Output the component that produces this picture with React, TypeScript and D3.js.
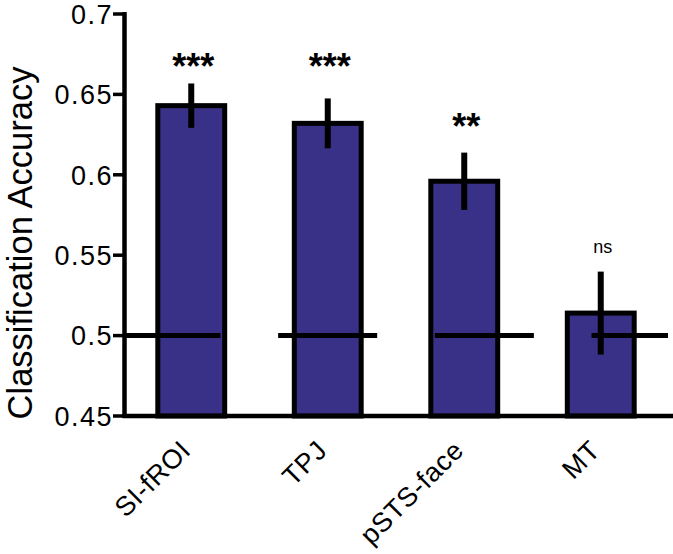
import React from "react";
import * as d3 from "d3";

const categories = ["SI-fROI", "TPJ", "pSTS-face", "MT"];
const means = [0.643, 0.632, 0.596, 0.514];
const errors = [0.0138, 0.0155, 0.0178, 0.0258];
const sigLabels = ["***", "***", "**", "ns"];
const sigLevels = [0.6723, 0.6723, 0.635, 0.554];
const chanceLevel = 0.5;
const yTicks = [0.45, 0.5, 0.55, 0.6, 0.65, 0.7];
const yTickLabels = ["0.45", "0.5", "0.55", "0.6", "0.65", "0.7"];

const W = 673;
const H = 554;
const FONT = "'Liberation Sans', Arial, Helvetica, sans-serif";
const BAR_FILL = "#393187";

export default function App() {
  const y = d3.scaleLinear().domain([0.45, 0.7]).range([416, 14]);
  const x = d3
    .scaleBand<string>()
    .domain(categories)
    .range([123, 669])
    .paddingInner(0.51)
    .paddingOuter(0.255);
  const xc = d3
    .scaleBand<string>()
    .domain(categories)
    .range([92.6, 719.4])
    .paddingInner(0.368)
    .paddingOuter(0.184);

  const axisX = 124.5;
  const base = y(0.45);

  return (
    <svg
      width={W}
      height={H}
      style={{ position: "absolute", left: 0, top: 0, background: "#fff" }}
      fontFamily={FONT}
    >
      <defs>
        <clipPath id="plotClip">
          <rect x={axisX} y={0} width={668 - axisX} height={H} />
        </clipPath>
      </defs>

      {/* bars */}
      {categories.map((c, i) => (
        <rect
          key={c}
          x={x(c)}
          y={y(means[i])}
          width={x.bandwidth()}
          height={base - y(means[i])}
          fill={BAR_FILL}
          stroke="#000"
          strokeWidth={5}
        />
      ))}

      {/* chance lines */}
      <g clipPath="url(#plotClip)">
        {categories.map((c) => (
          <line
            key={c}
            x1={xc(c)}
            x2={(xc(c) as number) + xc.bandwidth()}
            y1={y(chanceLevel)}
            y2={y(chanceLevel)}
            stroke="#000"
            strokeWidth={5}
          />
        ))}
      </g>

      {/* error bars */}
      {categories.map((c, i) => {
        const cx = (x(c) as number) + x.bandwidth() / 2;
        return (
          <line
            key={c}
            x1={cx}
            x2={cx}
            y1={y(means[i] + errors[i])}
            y2={y(means[i] - errors[i])}
            stroke="#000"
            strokeWidth={6}
          />
        );
      })}

      {/* axes */}
      <line x1={axisX} x2={axisX} y1={12} y2={base + 2} stroke="#000" strokeWidth={4.5} />
      <line x1={axisX - 2} x2={W} y1={base} y2={base} stroke="#000" strokeWidth={4.5} />
      {yTicks.map((t, i) => (
        <g key={t}>
          <line x1={113} x2={axisX} y1={y(t)} y2={y(t)} stroke="#000" strokeWidth={3.5} />
          <text
            x={113}
            y={y(t)}
            dy="0.36em"
            textAnchor="end"
            fontSize={27}
            letterSpacing={1.5}
            fill="#000"
          >
            {yTickLabels[i]}
          </text>
        </g>
      ))}

      {/* x tick labels */}
      {categories.map((c) => {
        const cx = (x(c) as number) + x.bandwidth() / 2;
        return (
          <text
            key={c}
            transform={`translate(${cx + 1},${452}) rotate(-45)`}
            textAnchor="end"
            fontSize={27}
            letterSpacing={0.6}
            fill="#000"
          >
            {c}
          </text>
        );
      })}

      {/* significance labels */}
      {categories.map((c, i) => {
        const cx = (x(c) as number) + x.bandwidth() / 2;
        const isNs = sigLabels[i] === "ns";
        return (
          <text
            key={c}
            x={cx + 2}
            y={y(sigLevels[i])}
            dy={isNs ? "0.26em" : "0.575em"}
            textAnchor="middle"
            fontSize={isNs ? 18 : 36}
            fontWeight={isNs ? "normal" : "bold"}
            fill="#000"
          >
            {sigLabels[i]}
          </text>
        );
      })}

      {/* y axis title */}
      <text
        transform={`translate(32,243) rotate(-90)`}
        textAnchor="middle"
        fontSize={34.5}
        fill="#000"
      >
        Classification Accuracy
      </text>
    </svg>
  );
}
